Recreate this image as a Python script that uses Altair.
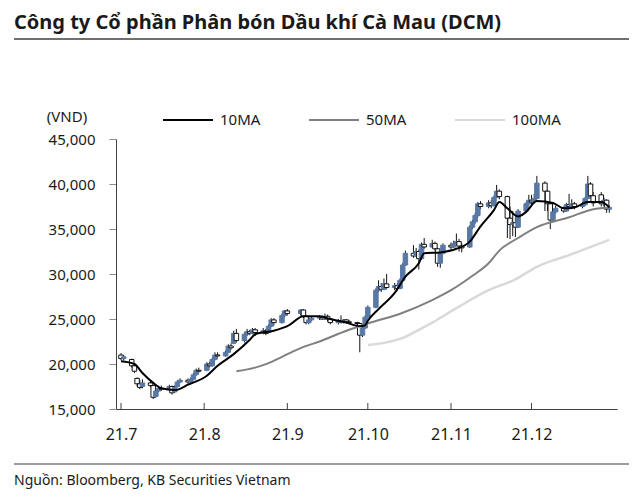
import altair as alt
import pandas as pd

title_text = "Công ty Cổ phần Phân bón Dầu khí Cà Mau (DCM)"
source_text = "Nguồn: Bloomberg, KB Securities Vietnam"
unit_text = "(VND)"

holidays = ["2021-09-02", "2021-09-03"]
trade_dates = [d.strftime("%Y-%m-%d") for d in pd.bdate_range("2021-07-01", "2021-12-30")
               if d.strftime("%Y-%m-%d") not in holidays]

open_ = [
    # Jul
    21000, 20600, 20500, 19800, 18400, 17800, 17500, 17900, 17600, 16400,
    17000, 17300, 17200, 17500, 16900, 17500, 18000, 18200, 18000, 18300, 18800, 19300,
    # Aug
    19300, 20000, 19800, 20500, 21000, 20900, 21300, 22000, 22300, 23400,
    22600, 23300, 23600, 23400, 23800, 23500, 23700, 23500, 24200, 24900, 24600, 25400,
    # Sep
    25900, 25600, 26000, 25300, 24600, 24900, 25100, 25200, 25000, 25300,
    25000, 24600, 24800, 24700, 24900, 24700, 24600, 24500, 23200, 24000,
    # Oct
    25200, 26300, 28200, 28600, 28300, 28900, 28500, 28700, 28400, 29300,
    31000, 32300, 32000, 32500, 31700, 33300, 33000, 33400, 32800, 31200, 32300,
    # Nov
    33200, 33000, 33400, 33600, 33100, 33000, 35200, 35800, 36500, 37800,
    37500, 37900, 37600, 38500, 39200, 38600, 36200, 35500, 35700, 35200, 37000, 37800,
    # Dec
    38200, 38000, 38400, 40100, 39200, 37800, 36000, 36900, 37300, 37000,
    37700, 37500, 37800, 37500, 37700, 38400, 40000, 38700, 38800, 37800, 38200, 37200,
]
close = [
    20600, 20800, 19800, 19200, 17800, 17400, 17900, 17600, 16300, 17000,
    17300, 17200, 17500, 16800, 17400, 18000, 18200, 18000, 18300, 18800, 19300, 19200,
    20000, 19800, 20500, 21000, 20900, 21300, 22000, 21800, 23400, 22600,
    23300, 23600, 23400, 23800, 23500, 23700, 23400, 24200, 24900, 24600, 25400, 25900,
    25600, 26000, 25300, 24600, 24900, 25100, 25200, 25000, 25300, 25000,
    24600, 24800, 24700, 24900, 24700, 24600, 24500, 23200, 24000, 25200,
    26300, 28200, 28600, 28300, 28900, 28500, 28700, 28400, 29300, 31000,
    32300, 32000, 32500, 31700, 33300, 33000, 33400, 32800, 31200, 32300, 33200,
    33000, 33400, 33600, 33100, 32900, 35200, 35800, 36500, 37800, 37500,
    37900, 37600, 38500, 39200, 38600, 36200, 35500, 35700, 35200, 37000, 37800, 38200,
    38000, 38400, 40100, 39200, 37800, 36000, 36900, 37300, 37000, 37700,
    37500, 37800, 37500, 37700, 38400, 40000, 38700, 37900, 37800, 38200, 37200, 37400,
]
high = [
    21200, 21000, 20600, 20000, 18500, 18200, 18300, 18100, 17700, 17200,
    17500, 17600, 17700, 17600, 17600, 18200, 18400, 18400, 18500, 19000, 19500, 19600,
    20200, 20200, 20700, 21300, 21300, 21500, 22200, 22300, 23700, 23900,
    23500, 23900, 23800, 24000, 24000, 24000, 23900, 24400, 25100, 25100, 25600, 26000,
    26100, 26100, 26100, 25400, 25100, 25300, 25400, 25400, 25600, 25500,
    25100, 25000, 25400, 25000, 25000, 24900, 24700, 24600, 24200, 25400,
    26500, 28400, 29300, 29000, 29500, 30000, 29000, 29000, 29500, 31200,
    32600, 33200, 32900, 32700, 33500, 34000, 33800, 33600, 32900, 32500, 33400,
    33500, 33700, 34500, 33900, 33400, 35400, 36000, 36800, 38000, 38100,
    38200, 38200, 38700, 39900, 39400, 38700, 37500, 37000, 36500, 37200, 38000, 38800,
    38800, 38900, 40900, 40300, 39300, 38000, 37200, 37600, 37500, 37900,
    38900, 38300, 38000, 38000, 38600, 40900, 40200, 39100, 39100, 38500, 38300, 37600,
]
low = [
    20400, 20400, 19600, 19000, 17500, 17200, 17300, 17400, 16100, 16300,
    16900, 17000, 17100, 16600, 16800, 17400, 17900, 17800, 17900, 18200, 18700, 19000,
    19200, 19600, 19700, 20400, 20700, 20800, 21200, 21600, 22200, 22400,
    22400, 23100, 23200, 23300, 23100, 23300, 23200, 23400, 24100, 24300, 24500, 25200,
    25400, 25400, 25100, 24400, 24400, 24800, 24900, 24900, 24900, 24700,
    24400, 24400, 24500, 24500, 24500, 24400, 24300, 21300, 23000, 23900,
    25100, 26200, 28000, 28000, 28200, 28300, 28200, 28100, 28300, 29100,
    30900, 31800, 31900, 30500, 31600, 32800, 32900, 32600, 30800, 30700, 32200,
    32700, 32900, 33200, 32500, 32400, 32900, 35000, 35600, 36300, 37200,
    37300, 37300, 37500, 38400, 38300, 34000, 33900, 34200, 34100, 35100, 36800, 37600,
    37700, 37800, 38300, 37000, 37000, 35000, 35800, 36700, 36800, 36900,
    37300, 37200, 37200, 37300, 37600, 38300, 38500, 37500, 37500, 37500, 36800, 36800,
]

ma10_dates = ["2021-07-01", "2021-07-06", "2021-07-09", "2021-07-13", "2021-07-16", "2021-07-21",
              "2021-07-26", "2021-08-02", "2021-08-06", "2021-08-12", "2021-08-18", "2021-08-20",
              "2021-08-27", "2021-09-01", "2021-09-07", "2021-09-13", "2021-09-17", "2021-09-23",
              "2021-09-28", "2021-09-30", "2021-10-01", "2021-10-05", "2021-10-11", "2021-10-15",
              "2021-10-20", "2021-10-22", "2021-10-28", "2021-11-03", "2021-11-08", "2021-11-12",
              "2021-11-17", "2021-11-19", "2021-11-22", "2021-11-26", "2021-11-29", "2021-12-03",
              "2021-12-09", "2021-12-13", "2021-12-17", "2021-12-22", "2021-12-27", "2021-12-30"]
ma10_values = [20300, 20000, 19000, 17900, 17300, 17100, 17700, 18700, 19800, 21100, 22700, 23300,
               23700, 24200, 25300, 25300, 25000, 24600, 24200, 24300, 24800, 26100, 27900, 29700,
               31200, 32300, 32400, 32800, 33600, 35300, 37100, 38000, 37300, 36400, 36900, 38100,
               37900, 37300, 37400, 38000, 38000, 37400]

ma50_dates = ["2021-08-13", "2021-08-20", "2021-08-25", "2021-08-30", "2021-09-07", "2021-09-13",
              "2021-09-23", "2021-10-01", "2021-10-14", "2021-10-25", "2021-11-01", "2021-11-09",
              "2021-11-15", "2021-11-19", "2021-11-26", "2021-12-03", "2021-12-15", "2021-12-24",
              "2021-12-30"]
ma50_values = [19200, 19600, 20100, 20800, 21900, 22500, 23700, 24500, 25700, 27100, 28200, 29800,
               31200, 32600, 34000, 35200, 36300, 37200, 37400]

ma100_dates = ["2021-10-01", "2021-10-08", "2021-10-14", "2021-10-20", "2021-10-25", "2021-11-03",
               "2021-11-15", "2021-11-25", "2021-12-03", "2021-12-15", "2021-12-30"]
ma100_values = [22100, 22400, 22900, 23800, 24600, 26200, 28200, 29400, 30800, 32100, 33800]

series_names = ["10MA", "50MA", "100MA"]
series_colors = ["#000000", "#808080", "#d9d9d9"]
month_ticks = ["2021-07-01", "2021-08-01", "2021-09-01", "2021-10-01", "2021-11-01", "2021-12-01"]
y_ticks = [15000, 20000, 25000, 30000, 35000, 40000, 45000]

FONT = "Noto Sans"
UP = "#5879a6"

candles = pd.DataFrame({"date": trade_dates, "open": open_, "high": high, "low": low, "close": close})
candles["dir"] = ["up" if c >= o else "down" for o, c in zip(open_, close)]

ma = pd.concat([
    pd.DataFrame({"date": ma10_dates, "value": ma10_values, "series": "10MA"}),
    pd.DataFrame({"date": ma50_dates, "value": ma50_values, "series": "50MA"}),
    pd.DataFrame({"date": ma100_dates, "value": ma100_values, "series": "100MA"}),
])

def dt(s):
    y, m, d = (int(v) for v in s.split("-"))
    return alt.DateTime(year=y, month=m, date=d, utc=True)

xscale = alt.Scale(type="utc", domain=[dt("2021-07-01"), dt("2021-12-31")])
yscale = alt.Scale(domain=[15000, 45000], nice=False, zero=False)

x_enc = alt.X("date:T", scale=xscale, axis=alt.Axis(
    values=[dt(m) for m in month_ticks], ticks=False, grid=False, title=None,
    labelExpr="utcFormat(datum.value, '%y.%-m')", labelFontSize=16, labelFont=FONT,
    labelColor="#1a1a1a", labelPadding=17, domainColor="#404040", domainWidth=1))

y_axis = alt.Axis(values=y_ticks, format=",.0f", grid=False, title=None, tickSize=7,
                  tickColor="#8c8c8c", labelFontSize=15, labelFont=FONT, labelColor="#1a1a1a",
                  labelPadding=14, domainColor="#404040", domainWidth=1)

wicks = alt.Chart(candles).mark_rule(color="#111111", strokeWidth=1).encode(
    x=x_enc, y=alt.Y("low:Q", scale=yscale, axis=y_axis), y2="high:Q")

bodies = alt.Chart(candles).mark_bar(size=4.5, strokeWidth=1).encode(
    x=alt.X("date:T", scale=xscale),
    y=alt.Y("open:Q", scale=yscale),
    y2="close:Q",
    fill=alt.Fill("dir:N", scale=alt.Scale(domain=["up", "down"], range=[UP, "#ffffff"]), legend=None),
    stroke=alt.Stroke("dir:N", scale=alt.Scale(domain=["up", "down"], range=[UP, "#111111"]), legend=None),
)

color_scale = alt.Scale(domain=series_names, range=series_colors)
legend = alt.Legend(orient="none", legendX=46, legendY=-45, direction="horizontal", columns=3,
                    title=None, symbolType="stroke", symbolSize=2500, symbolStrokeWidth=2,
                    labelFontSize=15, labelFont=FONT, labelColor="#1a1a1a", labelOffset=6,
                    columnPadding=36, gridAlign="all")

def ma_layer(name, width):
    return alt.Chart(ma).transform_filter(alt.datum.series == name).mark_line(
        strokeWidth=width, interpolate="monotone").encode(
        x=alt.X("date:T", scale=xscale),
        y=alt.Y("value:Q", scale=yscale),
        color=alt.Color("series:N", scale=color_scale, legend=legend, sort=series_names),
    )

tick_rules = alt.Chart(pd.DataFrame({"date": month_ticks})).mark_rule(
    color="#404040", strokeWidth=1).encode(
    x=alt.X("date:T", scale=xscale), y=alt.value(264), y2=alt.value(270))

def text_layer(txt, x, y, size, weight="normal", align="left", baseline="middle"):
    return alt.Chart(alt.Data(values=[{"t": txt}])).mark_text(
        font=FONT, fontSize=size, fontWeight=weight, align=align, baseline=baseline,
        color="#1a1a1a").encode(text="t:N", x=alt.value(x), y=alt.value(y))

def hline(y, width, color):
    return alt.Chart(alt.Data(values=[{"a": 1}])).mark_rule(
        color=color, strokeWidth=width).encode(x=alt.value(-102), x2=alt.value(516), y=alt.value(y))

chart = alt.layer(
    wicks, bodies,
    ma_layer("100MA", 2.5), ma_layer("50MA", 2), ma_layer("10MA", 2),
    tick_rules,
    text_layer(title_text, -102, -110, 20, "bold", baseline="alphabetic"),
    hline(-100, 1.5, "#404040"),
    text_layer(unit_text, -49, -22, 15, align="center"),
    hline(325, 1.2, "#404040"),
    text_layer(source_text, -102, 342, 14),
).resolve_scale(fill="independent", stroke="independent").properties(
    width=501, height=270,
    padding={"left": 108, "top": 131, "right": 12, "bottom": 88},
    autosize=alt.AutoSizeParams(type="none"),
).configure_view(stroke=None)

chart.save("out.html", embed_options={"renderer": "svg", "actions": False})
